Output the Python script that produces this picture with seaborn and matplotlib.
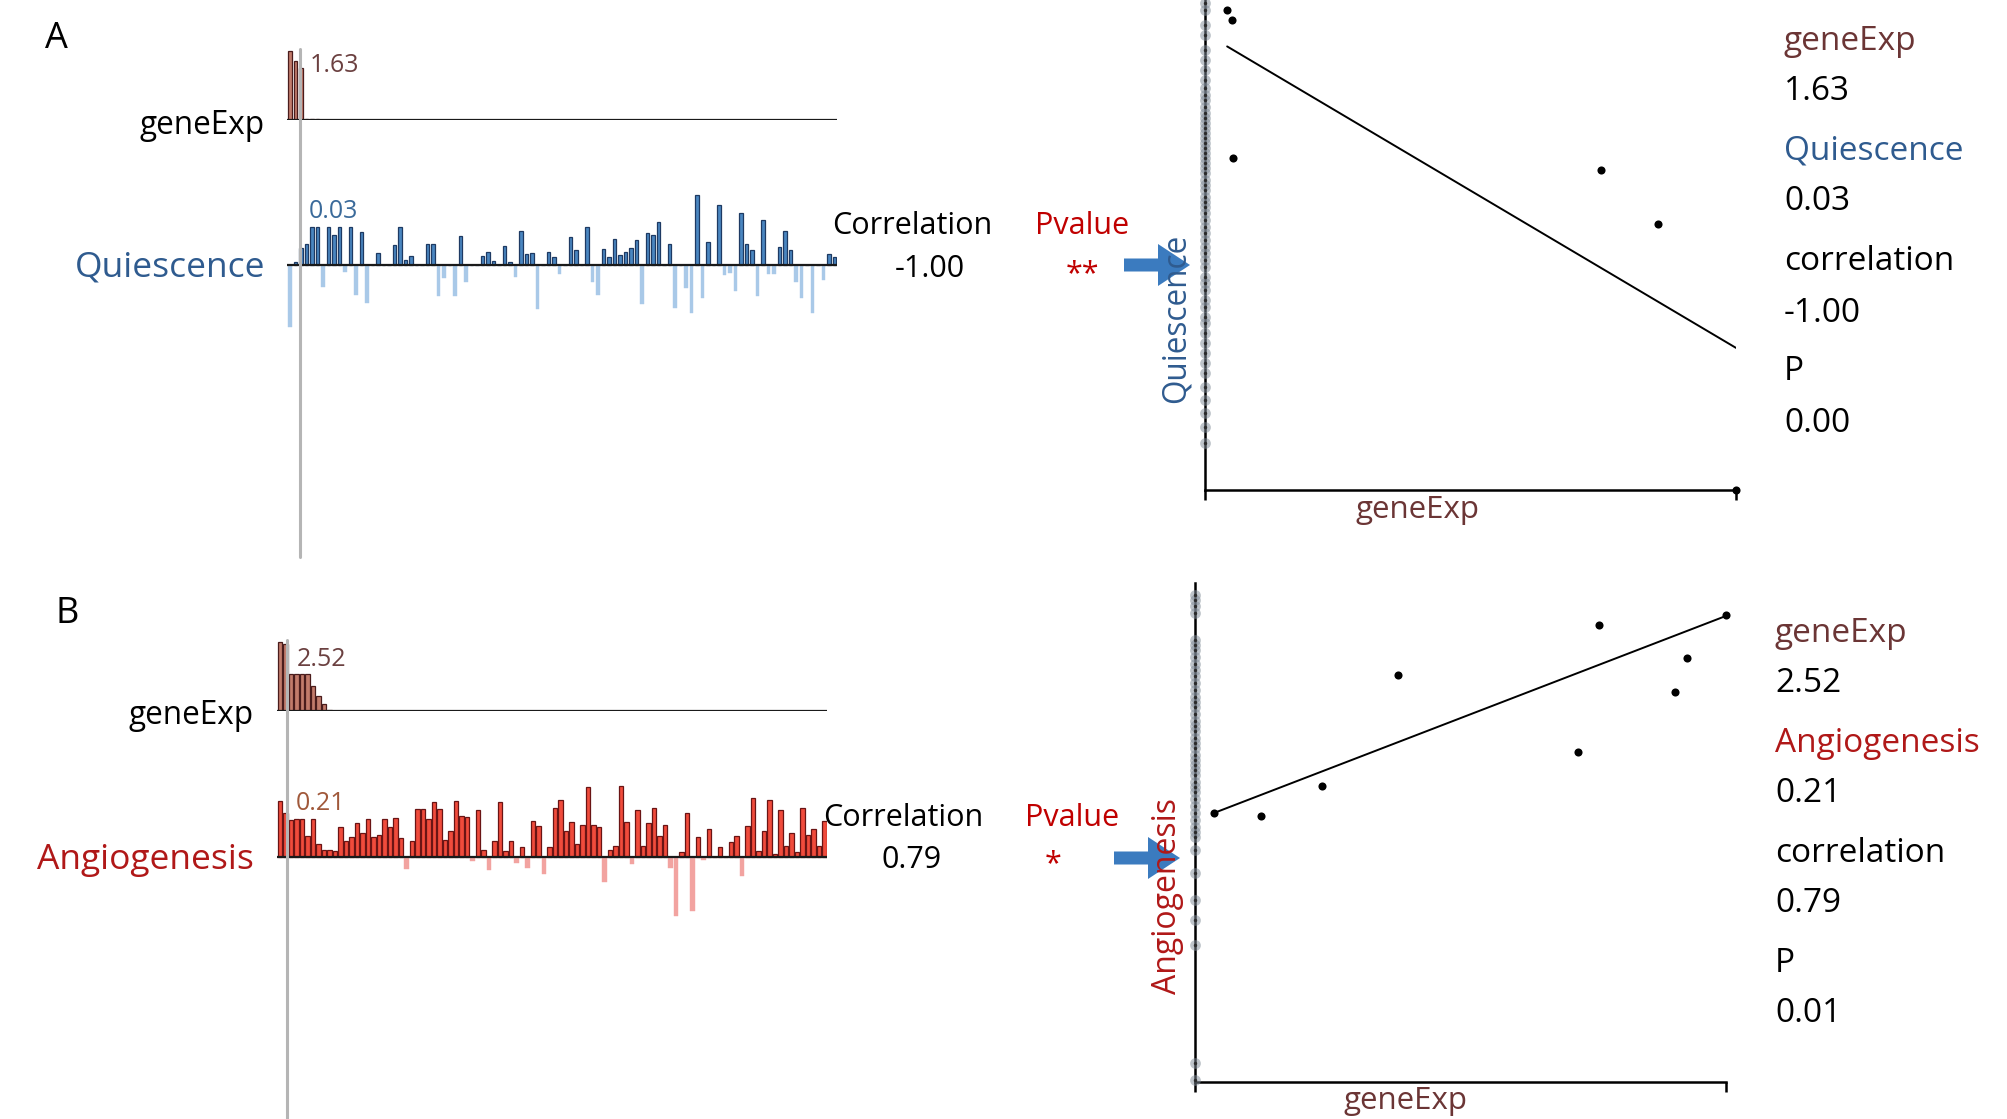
import numpy as np
import pandas as pd
import matplotlib
matplotlib.use("Agg")
import matplotlib.pyplot as plt
import seaborn as sns
from matplotlib.patches import FancyArrow

# ---------------- data ----------------
sample_idx = list(range(100))

geneexp_A = [1.63, 1.39, 1.23, 0.03, 0.02, 0.02] + [0.0] * 94

quiescence_A = [
    -0.062, 0.003, 0.017, 0.021, 0.038, 0.038, -0.022, 0.038, 0.030, 0.038,
    -0.007, 0.038, -0.030, 0.033, -0.038, 0.0, 0.012, 0.0, 0.0, 0.020,
    0.038, 0.005, 0.009, 0.0, 0.0, 0.021, 0.021, -0.031, -0.013, 0.0,
    -0.031, 0.029, -0.017, 0.0, 0.0, 0.009, 0.013, 0.004, 0.0, 0.019,
    0.003, -0.012, 0.034, 0.011, 0.012, -0.044, 0.0, 0.013, 0.008, -0.009,
    0.0, 0.028, 0.015, 0.0, 0.038, -0.017, -0.030, 0.016, 0.008, 0.026,
    0.010, 0.013, 0.017, 0.025, -0.039, 0.032, 0.030, 0.043, 0.0, 0.021,
    -0.043, 0.0, -0.023, -0.048, 0.070, -0.033, 0.023, 0.0, 0.060, -0.010,
    -0.008, -0.026, 0.052, 0.021, 0.015, -0.031, 0.045, -0.009, -0.009, 0.018,
    0.034, 0.015, -0.017, -0.033, 0.0, -0.048, 0.0, -0.015, 0.011, 0.008,
]

geneexp_B = [2.52, 2.45, 1.35, 1.35, 1.35, 1.35, 0.91, 0.55, 0.26, 0.05] + [0.0] * 90

angiogenesis_B = [
    0.056, 0.044, 0.037, 0.038, 0.038, 0.021, 0.038, 0.013, 0.007, 0.007,
    0.006, 0.030, 0.016, 0.020, 0.034, 0.024, 0.038, 0.020, 0.022, 0.038,
    0.030, 0.039, 0.019, -0.012, 0.016, 0.048, 0.048, 0.038, 0.055, 0.048,
    0.017, 0.026, 0.056, 0.041, 0.040, -0.004, 0.047, 0.007, -0.013, 0.016,
    0.055, 0.006, 0.016, -0.006, 0.010, -0.011, 0.036, 0.031, -0.017, 0.010,
    0.049, 0.057, 0.026, 0.035, 0.013, 0.032, 0.070, 0.032, 0.030, -0.025,
    0.007, 0.011, 0.071, 0.035, -0.007, 0.047, 0.011, 0.034, 0.049, 0.021,
    0.032, -0.011, -0.059, 0.005, 0.044, -0.054, 0.020, -0.003, 0.028, 0.0,
    0.010, 0.0, 0.015, 0.021, -0.019, 0.031, 0.059, 0.006, 0.026, 0.057,
    0.003, 0.047, 0.011, 0.024, 0.005, 0.049, 0.022, 0.028, 0.011, 0.036,
]

# scatter A
scatA_gene = [0.068, 0.083, 0.086, 1.216, 1.39, 1.63]
scatA_quies = [0.480, 0.470, 0.332, 0.320, 0.266, 0.0]
stripA_quies = [0.487, 0.480, 0.465, 0.455, 0.440, 0.430, 0.420, 0.410, 0.402, 0.395,
                0.390, 0.383, 0.377, 0.372, 0.367, 0.362, 0.357, 0.352, 0.347, 0.342,
                0.337, 0.332, 0.327, 0.322, 0.317, 0.310, 0.305, 0.300, 0.293, 0.288,
                0.283, 0.277, 0.270, 0.263, 0.257, 0.250, 0.243, 0.237, 0.230, 0.223,
                0.213, 0.207, 0.200, 0.190, 0.183, 0.173, 0.167, 0.157, 0.147, 0.137,
                0.127, 0.117, 0.103, 0.090, 0.077, 0.063, 0.047]
fitA_slope, fitA_intercept = -0.193, 0.4567

# scatter B
scatB_gene = [0.090, 0.313, 0.603, 0.963, 1.818, 1.917, 2.278, 2.335, 2.52]
scatB_angio = [0.269, 0.266, 0.296, 0.407, 0.330, 0.457, 0.390, 0.424, 0.467]
stripB_angio = [0.487, 0.482, 0.476, 0.469, 0.442, 0.437, 0.432, 0.425, 0.418, 0.412,
                0.406, 0.399, 0.392, 0.385, 0.380, 0.375, 0.368, 0.361, 0.356, 0.351,
                0.344, 0.339, 0.334, 0.327, 0.322, 0.317, 0.312, 0.307, 0.300, 0.295,
                0.290, 0.283, 0.276, 0.269, 0.262, 0.255, 0.250, 0.245, 0.232, 0.209,
                0.182, 0.162, 0.137, 0.019, 0.002]
fitB_slope, fitB_intercept = 0.0811, 0.2617

# ---------------- styling ----------------
sns.set_theme(style="white")
plt.rcParams["font.family"] = ["Open Sans", "DejaVu Sans"]

W, H = 2008, 1119
fig = plt.figure(figsize=(W / 100, H / 100), dpi=100)
fig.patch.set_facecolor("white")

BROWN = "#6b3535"
BLUE_T = "#2f5b8f"
RED_T = "#b01818"
PRED = "#c00000"
ARROW = "#3b7bbf"


def px_axes(l, t, w, h):
    return fig.add_axes([l / W, 1 - (t + h) / H, w / W, h / H])


def strip(values, cx0, spacing, baseline, ppu, ymin, ymax,
          pos_fill, pos_edge, neg_fill, width):
    left = cx0 - spacing / 2
    top = baseline - ymax * ppu
    ax = px_axes(left, top, 100 * spacing, (ymax - ymin) * ppu)
    v = np.asarray(values, float)
    df = pd.DataFrame({"idx": sample_idx,
                       "pos": np.where(v > 0, v, 0.0),
                       "neg": np.where(v < 0, v, 0.0)})
    sns.barplot(data=df, x="idx", y="pos", native_scale=True, color=pos_fill,
                saturation=1, width=width, edgecolor=pos_edge, linewidth=0.9,
                errorbar=None, ax=ax)
    if (v < 0).any():
        sns.barplot(data=df, x="idx", y="neg", native_scale=True, color=neg_fill,
                    saturation=1, width=width, edgecolor=neg_fill, linewidth=0.3,
                    errorbar=None, ax=ax)
    ax.axhline(0, color="#1a1a1a", lw=1.6, zorder=5)
    ax.set_xlim(-0.5, 99.5)
    ax.set_ylim(ymin, ymax)
    ax.axis("off")
    ax.patch.set_alpha(0)
    return ax


# bar strips
strip(geneexp_A, 290, 5.5, 120, 69 / 1.63, 0, 1.75, "#c27b6b", "#4a1c1c", "#c27b6b", 0.65)
strip(quiescence_A, 290, 5.5, 265, 1000, -0.07, 0.075, "#4a86c0", "#1e3a63", "#a9c9e8", 0.6)
strip(geneexp_B, 280, 5.5, 711, 69 / 2.52, 0, 2.7, "#c27b6b", "#4a1c1c", "#c27b6b", 0.75)
strip(angiogenesis_B, 280, 5.5, 857, 1000, -0.065, 0.075, "#f04b3c", "#6a1414", "#f2a3a0", 0.75)


def scatter_panel(l, t, w, h, xmax, ymax, gx, gy, strip_y, slope, icpt):
    ax = px_axes(l, t, w, h)
    sns.scatterplot(x=np.zeros(len(strip_y)), y=strip_y, ax=ax, color="#7f8a96",
                    s=60, alpha=0.5, linewidth=0, clip_on=False, legend=False, zorder=3)
    sns.scatterplot(x=np.zeros(len(strip_y)), y=strip_y, ax=ax, color="#2a2a2a",
                    s=6, linewidth=0, clip_on=False, legend=False, zorder=4)
    sns.scatterplot(x=gx, y=gy, ax=ax, color="black", s=34, linewidth=0,
                    clip_on=False, legend=False, zorder=5)
    lx = np.array([min(x for x in gx if x > 0), max(gx)])
    sns.lineplot(x=lx, y=slope * lx + icpt, ax=ax, color="black", lw=1.4)
    ax.set_xlim(0, xmax)
    ax.set_ylim(0, ymax)
    for s in ("top", "right"):
        ax.spines[s].set_visible(False)
    for s in ("left", "bottom"):
        ax.spines[s].set_color("black")
        ax.spines[s].set_linewidth(1.8)
    ax.set_xticks([0, xmax])
    ax.set_xticklabels(["", ""])
    ax.set_yticks([])
    ax.tick_params(axis="x", bottom=True, length=7, width=1.8, color="black", direction="out")
    ax.set_xlabel("")
    ax.set_ylabel("")
    ax.patch.set_alpha(0)
    return ax


scatter_panel(1205, 0, 531, 490, 1.63, 0.49, scatA_gene, scatA_quies, stripA_quies,
              fitA_slope, fitA_intercept)
scatter_panel(1195, 583, 531, 499, 2.52, 0.499, scatB_gene, scatB_angio, stripB_angio,
              fitB_slope, fitB_intercept)

# overlay for annotations
ov = fig.add_axes([0, 0, 1, 1], zorder=10)
ov.set_xlim(0, W)
ov.set_ylim(H, 0)
ov.axis("off")
ov.patch.set_alpha(0)

# gray vertical lines
ov.plot([300, 300], [49, 557], color="#b5b5b5", lw=2.2, zorder=1)
ov.plot([287, 287], [640, 1119], color="#b5b5b5", lw=2.2, zorder=1)

# arrows
for y0, x0, x1 in ((265, 1124, 1190), (858, 1114, 1180)):
    ov.add_patch(FancyArrow(x0, y0, x1 - x0, 0, width=13, head_width=42,
                            head_length=32, length_includes_head=True,
                            color=ARROW, lw=0, zorder=2))

DY = 4


def T(x, y, s, size, color="black", ha="left", va="center", rot=0):
    dy = DY if rot == 0 else 0
    ov.text(x, y + dy, s, fontsize=size, color=color, ha=ha, va=va, rotation=rot, zorder=5)


# panel A
T(56, 35, "A", 26, ha="center")
T(265, 121, "geneExp", 22.7, ha="right")
T(310, 62, "1.63", 18, color="#6b4040")
T(265, 264, "Quiescence", 25.5, color=BLUE_T, ha="right")
T(309, 207, "0.03", 18, color="#3a6a9a")
T(912, 222, "Correlation", 22, ha="center")
T(930, 265, "-1.00", 22, ha="center")
T(1082, 222, "Pvalue", 22, color=PRED, ha="center")
T(1082, 270, "**", 22, color=PRED, ha="center")
T(1176, 318, "Quiescence", 22.7, color=BLUE_T, ha="center", rot=90)
T(1418, 506, "geneExp", 22.5, color=BROWN, ha="center")
for y, s, c in ((38, "geneExp", BROWN), (88, "1.63", "black"), (147, "Quiescence", BLUE_T),
                (198, "0.03", "black"), (257, "correlation", "black"), (309, "-1.00", "black"),
                (368, "P", "black"), (419, "0.00", "black")):
    T(1784, y, s, 24, color=c)

# panel B
T(67, 610, "B", 26, ha="center")
T(254, 712, "geneExp", 22.7, ha="right")
T(297, 655, "2.52", 18, color="#6b4040")
T(254, 856, "Angiogenesis", 25.5, color=RED_T, ha="right")
T(296, 799, "0.21", 18, color="#a0583a")
T(903, 814, "Correlation", 22, ha="center")
T(912, 856, "0.79", 22, ha="center")
T(1072, 814, "Pvalue", 22, color=PRED, ha="center")
T(1053, 860, "*", 22, color=PRED, ha="center")
T(1168, 896, "Angiogenesis", 23, color=RED_T, ha="center", rot=90)
T(1406, 1097, "geneExp", 22.5, color=BROWN, ha="center")
for y, s, c in ((630, "geneExp", BROWN), (680, "2.52", "black"), (739, "Angiogenesis", RED_T),
                (790, "0.21", "black"), (849, "correlation", "black"), (900, "0.79", "black"),
                (959, "P", "black"), (1010, "0.01", "black")):
    T(1775, y, s, 24, color=c)

fig.savefig("out.png", dpi=100)
